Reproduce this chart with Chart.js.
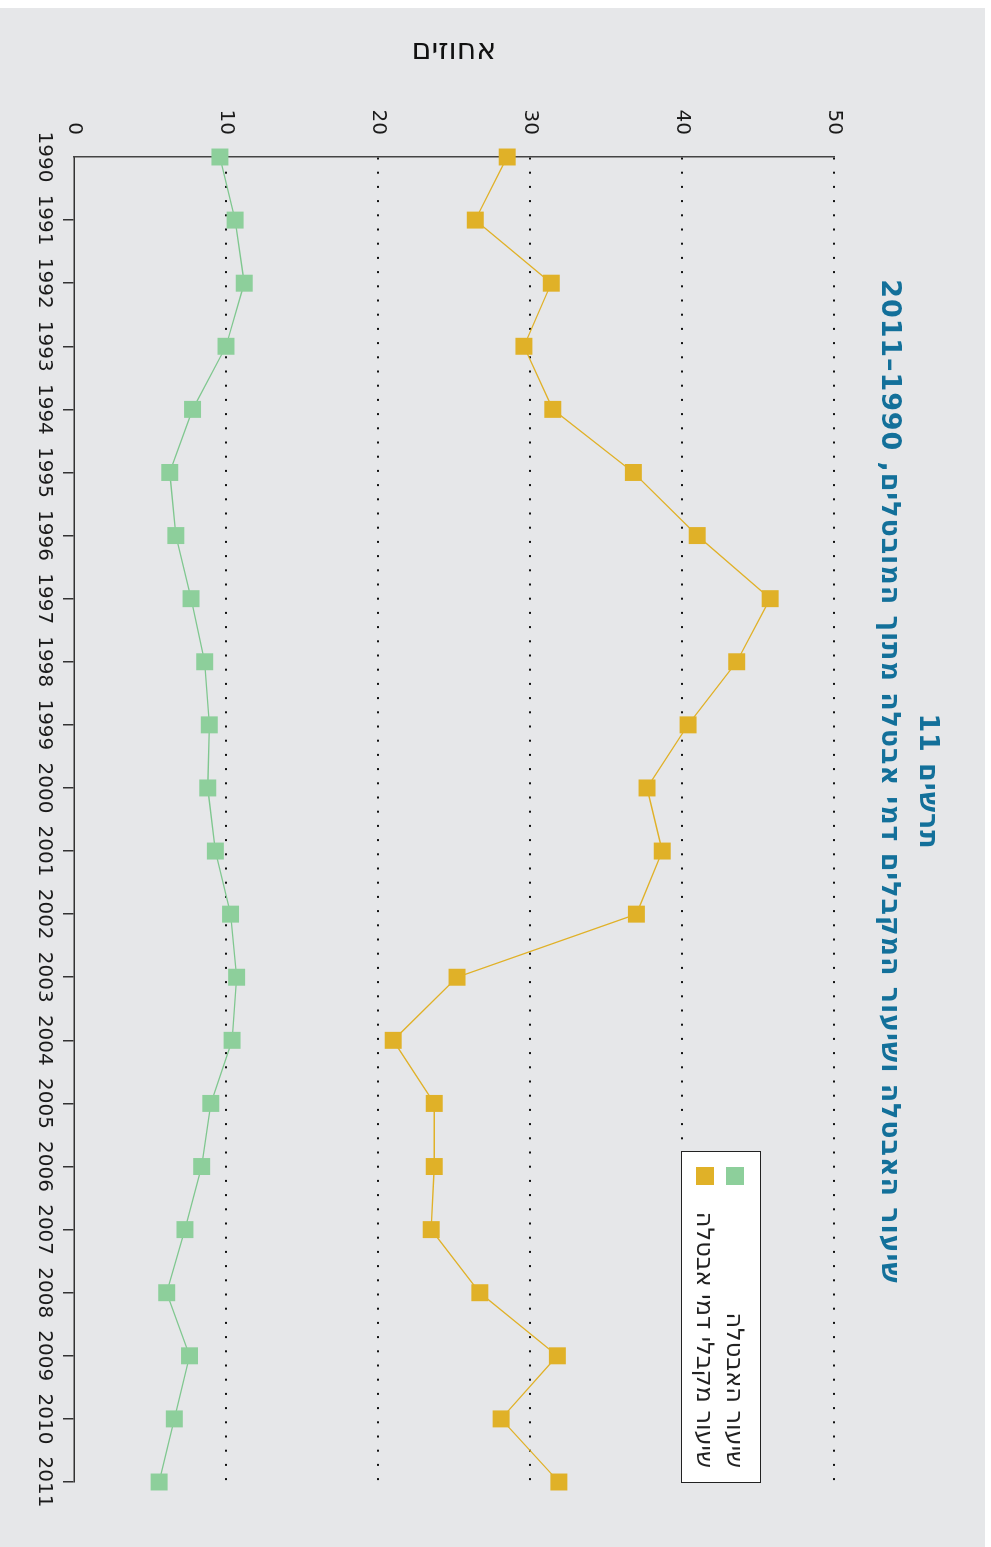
<!DOCTYPE html>
<html lang="he">
<head>
<meta charset="utf-8">
<script src="https://cdn.jsdelivr.net/npm/chart.js@4.4.1/dist/chart.umd.min.js"></script>
<style>
  html, body { margin: 0; padding: 0; background: #fff; width: 991px; height: 1547px; overflow: hidden; }
  #frame {
    position: absolute; left: 0; top: 0; width: 1547px; height: 991px;
    transform-origin: 0 0; transform: translateX(991px) rotate(90deg);
    font-family: "DejaVu Sans", sans-serif;
  }
  #bg { position: absolute; left: 8px; top: 6px; right: 0; bottom: 0; background: #e6e7e9; }
  #chart { position: absolute; left: 0; top: 0; }
  #title {
    position: absolute; left: 16px; width: 1531px; top: 43px;
    text-align: center; color: #13709a; font-weight: bold; font-size: 27px; line-height: 38px;
    letter-spacing: 0.9px;
  }
  #legend {
    position: absolute; left: 1151px; top: 230px; width: 330px; height: 78px;
    background: #fff; border: 1.5px solid #222;
  }
  .row { position: absolute; left: 0; right: 0; height: 30px; }
  .row .sw { position: absolute; left: 15px; top: 6px; width: 18px; height: 18px; }
  .row .tx { position: absolute; right: 14px; top: 0; line-height: 30px; font-size: 24px; color: #222; white-space: nowrap; }
</style>
</head>
<body>
<div id="frame">
  <div id="bg"></div>
  <canvas id="chart" width="1547" height="991"></canvas>
  <div id="title" dir="rtl">
    <div>תרשים 11</div>
    <div>שיעור האבטלה ושיעור המקבלים דמי אבטלה מתוך המובטלים, 1990–2011</div>
  </div>
  <div id="legend" dir="rtl"></div>
</div>
<script>
// Data
const years = ['1990', '1991', '1992', '1993', '1994', '1995', '1996', '1997', '1998', '1999', '2000',
               '2001', '2002', '2003', '2004', '2005', '2006', '2007', '2008', '2009', '2010', '2011'];
const unemployment = [9.6, 10.6, 11.2, 10.0, 7.8, 6.3, 6.7, 7.7, 8.6, 8.9, 8.8,
                      9.3, 10.3, 10.7, 10.4, 9.0, 8.4, 7.3, 6.1, 7.6, 6.6, 5.6];
const benefitRecipients = [28.5, 26.4, 31.4, 29.6, 31.5, 36.8, 41.0, 45.8, 43.6, 40.4, 37.7,
                           38.7, 37.0, 25.2, 21.0, 23.7, 23.7, 23.5, 26.7, 31.8, 28.1, 31.9];
const valueTicks = [0, 10, 20, 30, 40, 50];
const seriesNames = ['שיעור האבטלה', 'שיעור מקבלי דמי אבטלה'];
const seriesColors = ['#8dcf9b', '#e0b128'];

// Legend box (HTML so the Hebrew text stays right-aligned)
const legend = document.getElementById('legend');
seriesNames.forEach((name, i) => {
    const row = document.createElement('div');
    row.className = 'row';
    row.style.top = (10 + i * 30) + 'px';
    row.innerHTML = `<div class="sw" style="background:${seriesColors[i]}"></div><div class="tx">${name}</div>`;
    legend.appendChild(row);
});

const ctx = document.getElementById('chart').getContext('2d');

new Chart(ctx, {
    type: 'line',
    data: {
        labels: years,
        datasets: [
            {
                label: seriesNames[0],
                data: unemployment,
                borderColor: '#7fc78f',
                backgroundColor: seriesColors[0],
                borderWidth: 1.3,
                pointStyle: 'rect',
                pointRadius: 12,
                pointBorderWidth: 0,
                pointBackgroundColor: seriesColors[0],
                tension: 0
            },
            {
                label: seriesNames[1],
                data: benefitRecipients,
                borderColor: '#e0b128',
                backgroundColor: seriesColors[1],
                borderWidth: 1.3,
                pointStyle: 'rect',
                pointRadius: 12,
                pointBorderWidth: 0,
                pointBackgroundColor: seriesColors[1],
                tension: 0
            }
        ]
    },
    options: {
        responsive: false,
        animation: false,
        layout: {
            padding: { top: 157, right: 65, bottom: 0, left: 0 }
        },
        plugins: {
            legend: { display: false },
            title: { display: false },
            tooltip: { enabled: false }
        },
        scales: {
            x: {
                offset: false,
                afterFit: (scale) => { scale.height = 74; },
                ticks: {
                    color: '#1a1a1a',
                    font: { family: 'DejaVu Sans', size: 20 },
                    padding: 7,
                    maxRotation: 0,
                    autoSkip: false
                },
                grid: {
                    drawOnChartArea: false,
                    drawTicks: true,
                    tickLength: 11,
                    lineWidth: 1.5,
                    color: (c) => c.index === 0 ? 'rgba(0,0,0,0)' : '#333'
                },
                border: { color: '#333', width: 1.5 }
            },
            y: {
                min: 0,
                max: 50,
                afterFit: (scale) => { scale.width = 157; },
                afterBuildTicks: (scale) => { scale.ticks = valueTicks.map(v => ({ value: v })); },
                ticks: {
                    color: '#1a1a1a',
                    font: { family: 'DejaVu Sans', size: 20 },
                    padding: 22
                },
                grid: {
                    drawTicks: false,
                    lineWidth: 2,
                    color: (c) => c.tick && c.tick.value === 0 ? 'rgba(0,0,0,0)' : '#111'
                },
                border: { color: '#444', width: 1.5, dash: [2, 12.2] },
                title: {
                    display: true,
                    text: 'אחוזים',
                    color: '#111',
                    font: { family: 'DejaVu Sans', size: 30 },
                    padding: { top: 33, bottom: 0 }
                }
            }
        }
    }
});
</script>
</body>
</html>
